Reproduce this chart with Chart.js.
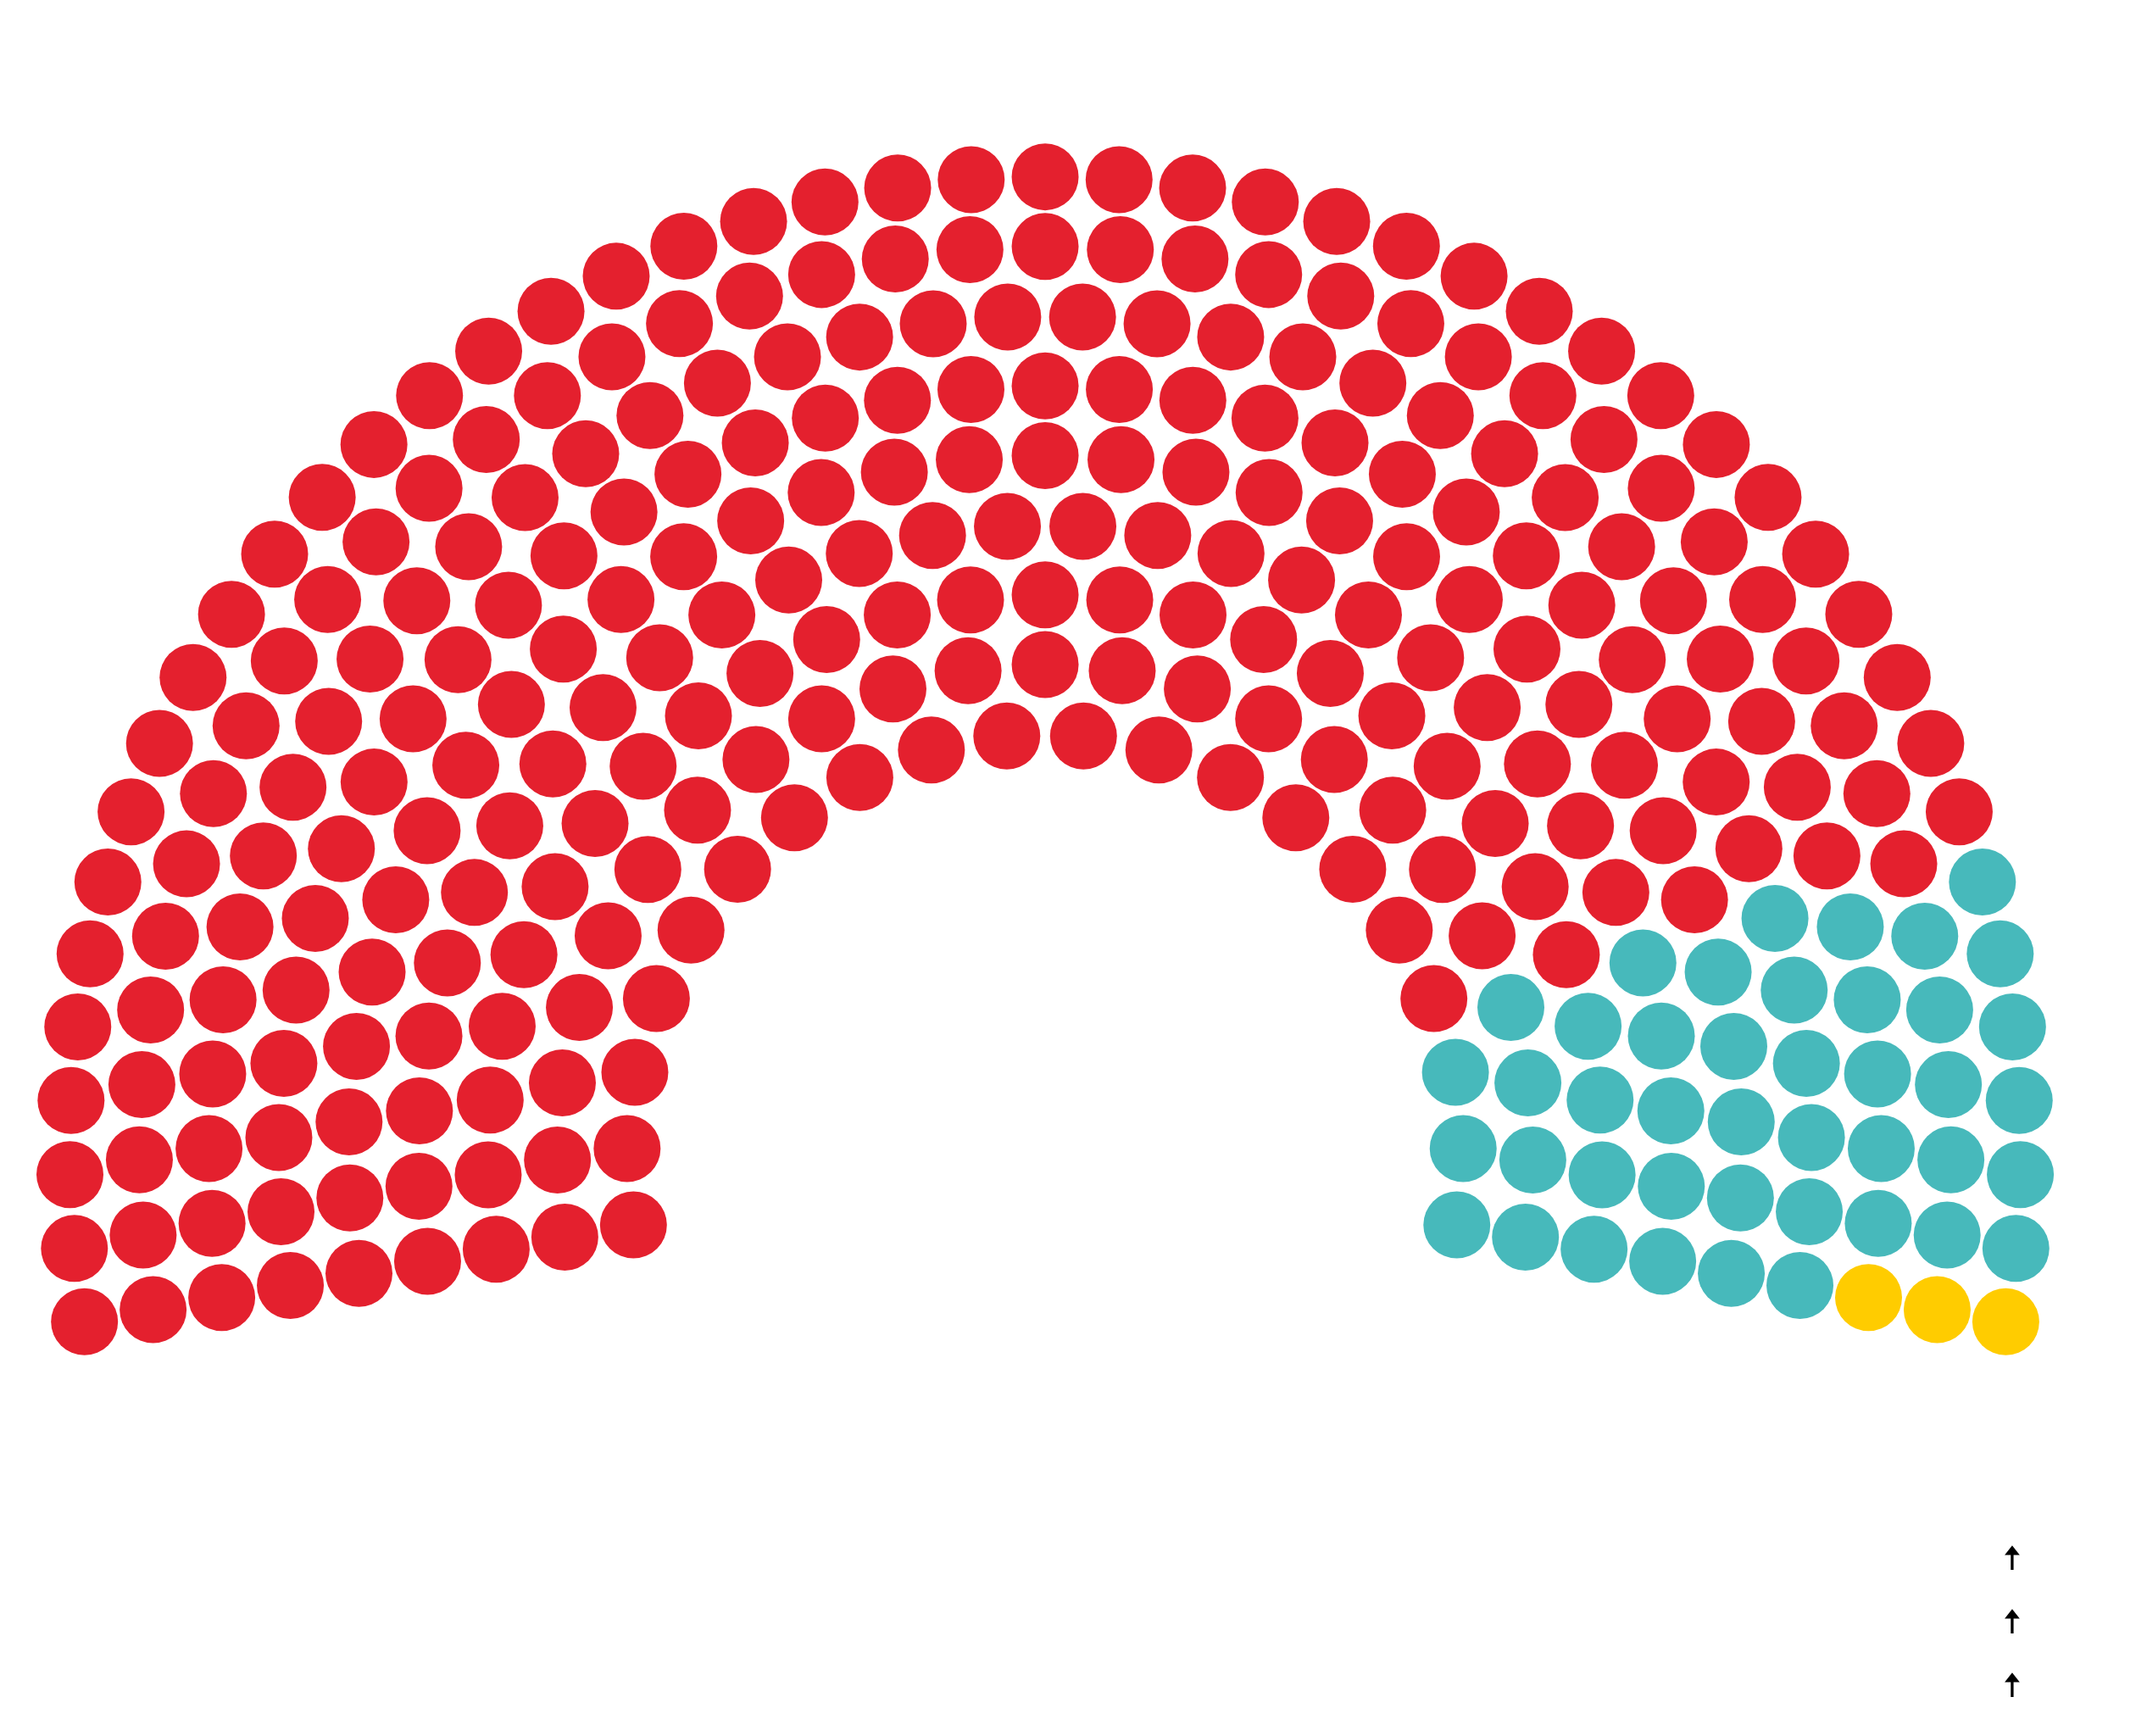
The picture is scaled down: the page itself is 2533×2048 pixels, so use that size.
<!DOCTYPE html>
<html>
<head>
<meta charset="utf-8">
<script src="https://cdn.jsdelivr.net/npm/chart.js@4.4.1/dist/chart.umd.min.js"></script>
<style>
  html, body { margin: 0; padding: 0; background: #ffffff; overflow: hidden; }
  #wrap { position: relative; width: 2533px; height: 2048px; }
  #legend { position: absolute; left: 2354px; top: 1818px; width: 40px; font-family: "DejaVu Sans", sans-serif; }
  #legend div { height: 75px; line-height: 40px; font-size: 40px; text-align: center; color: #000; white-space: nowrap; }
</style>
</head>
<body>
<div id="wrap">
  <canvas id="c"></canvas>
  <div id="legend"></div>
</div>
<script>
// ---- data ----
const partyLabels = ['\u{1F805}', '\u{1F805}', '\u{1F805}'];
const seatCounts = [254, 43, 3];
const partyColors = ['#E4202E', '#47B9BB', '#FFCC00'];

// ---- parliament layout (9 rows, arc from 190° to -10°) ----
const rowCount = 9;
const innerRadius = 3, rowStep = 0.5;
const startDeg = 190, endDeg = -10;

const totalSeats = seatCounts.reduce((a, b) => a + b, 0);
const radii = [];
for (let i = 0; i < rowCount; i++) radii.push(innerRadius + i * rowStep);
const radiusSum = radii.reduce((a, b) => a + b, 0);
const perRow = radii.map(r => Math.round(totalSeats * r / radiusSum));
perRow[rowCount - 1] += totalSeats - perRow.reduce((a, b) => a + b, 0);

const seats = [];
radii.forEach((r, row) => {
  const n = perRow[row];
  for (let j = 0; j < n; j++) {
    const deg = n === 1 ? 90 : startDeg - j * (startDeg - endDeg) / (n - 1);
    seats.push({ deg, r, row });
  }
});
seats.sort((a, b) => (Math.abs(a.deg - b.deg) > 1e-9 ? b.deg - a.deg : a.row - b.row));

const datasets = [];
let idx = 0;
seatCounts.forEach((count, p) => {
  const pts = [];
  for (let k = 0; k < count; k++) {
    const s = seats[idx++];
    const a = s.deg * Math.PI / 180;
    pts.push({ x: s.r * Math.cos(a), y: s.r * Math.sin(a) });
  }
  datasets.push({
    label: partyLabels[p],
    data: pts,
    backgroundColor: partyColors[p],
    borderWidth: 0,
    pointRadius: 39.5,
    pointHoverRadius: 39.5
  });
});

new Chart(document.getElementById('c'), {
  type: 'scatter',
  data: { datasets },
  options: {
    responsive: true,
    maintainAspectRatio: false,
    animation: false,
    layout: { padding: 0, autoPadding: false },
    plugins: { legend: { display: false }, tooltip: { enabled: false } },
    scales: {
      x: { display: false, min: -7.5, max: 7.907 },
      y: { display: false, min: -4.188, max: 8.269 }
    }
  }
});

const legend = document.getElementById('legend');
partyLabels.forEach(t => {
  const d = document.createElement('div');
  d.textContent = t;
  legend.appendChild(d);
});
</script>
</body>
</html>
